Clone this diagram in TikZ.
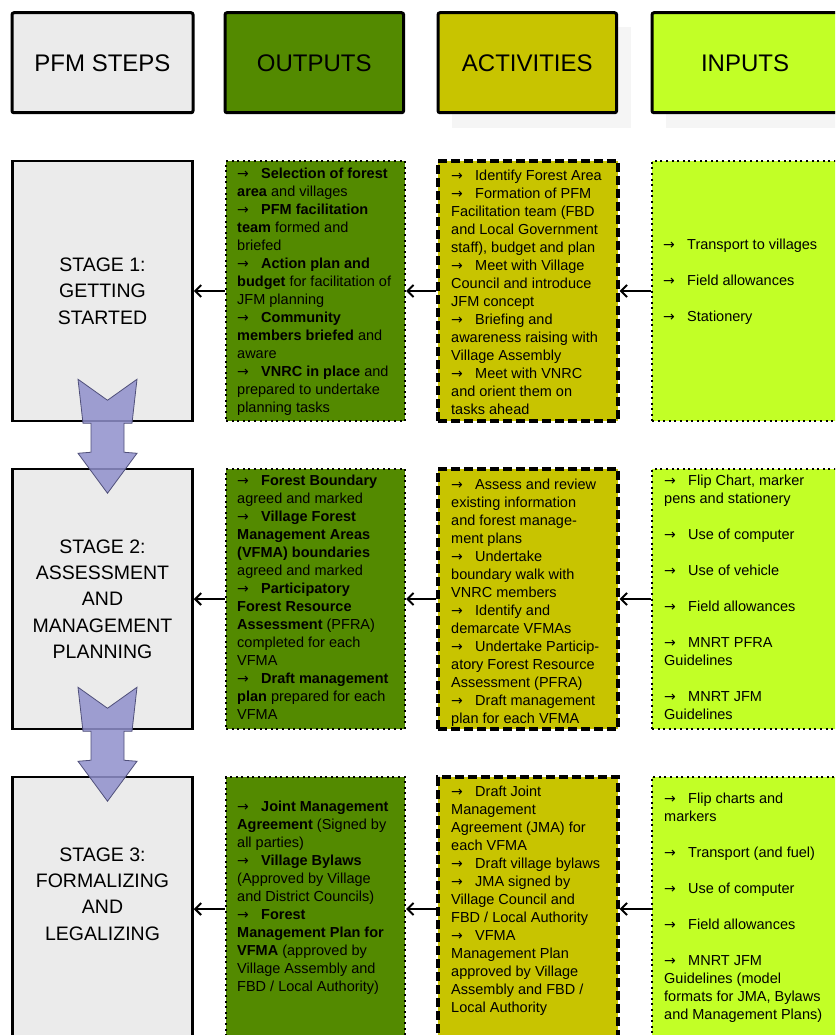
\documentclass[tikz,border=0pt]{standalone}
\usepackage{fontspec}
\setmainfont{Liberation Sans}
\newfontfamily\arfont{DejaVu Sans}
\usetikzlibrary{arrows.meta}
\definecolor{stepgray}{HTML}{EBEBEB}
\definecolor{outgreen}{HTML}{538A00}
\definecolor{actyellow}{HTML}{C8C400}
\definecolor{inlime}{HTML}{C2FF26}
\definecolor{arrowfill}{HTML}{9090CC}
\definecolor{arrowdraw}{HTML}{50507A}
\newcommand\ar{\strut\makebox[24pt][l]{\arfont\fontsize{14}{14}\selectfont →}}
\tikzset{
 hdr/.style={draw=black, line width=3pt, rounded corners=2pt, minimum height=100pt, inner sep=0pt, font=\fontsize{24}{28}\selectfont},
 stagebox/.style={draw=black, line width=2.5pt, fill=stepgray, minimum width=180pt, minimum height=260pt, align=center, inner sep=0pt, font=\fontsize{19.5}{26.3}\selectfont},
 outbox/.style={draw=black, line width=2.2pt, dash pattern=on 2pt off 3.6pt, fill=outgreen, minimum width=179pt, minimum height=260pt, inner sep=0pt},
 actbox/.style={draw=black, line width=3.3pt, dash pattern=on 9pt off 4pt, fill=actyellow, minimum width=180pt, minimum height=260pt, inner sep=0pt},
 inbox/.style={draw=black, line width=2.2pt, dash pattern=on 2pt off 3.6pt, fill=inlime, minimum width=200pt, minimum height=260pt, inner sep=0pt},
 txt/.style={anchor=north west, inner sep=0pt, align=left, font=\fontsize{14.5}{18}\selectfont},
 conn/.style={line width=2pt, -{Straight Barb[length=6pt,width=12pt]}},
 barrow/.style={fill=arrowfill, fill opacity=0.85, draw=arrowdraw, line width=0.8pt, line join=miter},
 shadowbox/.style={fill=black!4, draw=none},
}
\begin{document}
\begin{tikzpicture}[x=1pt,y=-1pt]
\useasboundingbox (0,0) rectangle (835,1035);
\clip (0,0) rectangle (835,1035);
\fill[white] (0,0) rectangle (835,1035);

% header shadows
\fill[shadowbox] (452,27) rectangle (631,128);
\fill[shadowbox] (666,27) rectangle (870,128);

% headers
\node[hdr, fill=stepgray, minimum width=181pt] (hsteps) at (102.5,62.75) {PFM STEPS};
\node[hdr, fill=outgreen, minimum width=178.6pt] (hout) at (314.3,62.75) {OUTPUTS};
\node[hdr, fill=actyellow, minimum width=178.6pt] (hact) at (527.3,62.75) {ACTIVITIES};
\node[hdr, fill=inlime, minimum width=200pt, text width=180pt, align=left] (hin) at (752,62.75) {\hspace{39pt}INPUTS};

% stage boxes
\node[stagebox] (s1) at (102.5,291) {STAGE 1:\\GETTING\\STARTED};
\node[stagebox] (s2) at (102.5,599) {STAGE 2:\\ASSESSMENT\\AND\\MANAGEMENT\\PLANNING};
\node[stagebox, minimum height=264pt] (s3) at (102.5,909) {STAGE 3:\\FORMALIZING\\AND\\LEGALIZING\\[4pt]};

% row boxes
\node[outbox] (o1) at (315.5,291) {};
\node[actbox] (a1) at (528,291) {};
\node[inbox] (i1) at (752,291) {};
\node[outbox] (o2) at (315.5,599) {};
\node[actbox] (a2) at (528,599) {};
\node[inbox] (i2) at (752,599) {};
\node[outbox, minimum height=264pt] (o3) at (315.5,909) {};
\node[actbox, minimum height=264pt] (a3) at (528,909) {};
\node[inbox, minimum height=264pt] (i3) at (752,909) {};

% connectors
\draw[conn] (o1.west) -- (s1.east);
\draw[conn] (a1.west) -- (o1.east);
\draw[conn] (i1.west) -- (a1.east);
\draw[conn] (o2.west) -- (s2.east);
\draw[conn] (a2.west) -- (o2.east);
\draw[conn] (i2.west) -- (a2.east);
\draw[conn] (o3.west) -- (s3.east);
\draw[conn] (a3.west) -- (o3.east);
\draw[conn] (i3.west) -- (a3.east);

% block arrows between stages
\path[barrow, shift={(s1.south)}] (-24.5,-43) -- (5,-22) -- (34.5,-43) -- (29.5,1) -- (21.5,1) -- (21.5,30) -- (34.5,31) -- (5,71) -- (-24.5,31) -- (-11.5,30) -- (-11.5,1) -- (-19.5,1) -- cycle;
\path[barrow, shift={(s2.south)}] (-24.5,-43) -- (5,-22) -- (34.5,-43) -- (29.5,1) -- (21.5,1) -- (21.5,30) -- (34.5,31) -- (5,71) -- (-24.5,31) -- (-11.5,30) -- (-11.5,1) -- (-19.5,1) -- cycle;

% texts row 1
\node[txt] (to1) at (237,165.7) {\ar\textbf{Selection of forest}\\
\textbf{area} and villages\\
\ar\textbf{PFM facilitation}\\
\textbf{team} formed and\\
briefed\\
\ar\textbf{Action plan and}\\
\textbf{budget} for facilitation of\\
JFM planning\\
\ar\textbf{Community}\\
\textbf{members briefed} and\\
aware\\
\ar\textbf{VNRC in place} and\\
prepared to undertake\\
planning tasks};
\node[txt] (ta1) at (451,167.4) {\ar Identify Forest Area\\
\ar Formation of PFM\\
Facilitation team (FBD\\
and Local Government\\
staff), budget and plan\\
\ar Meet with Village\\
Council and introduce\\
JFM concept\\
\ar Briefing and\\
awareness raising with\\
Village Assembly\\
\ar Meet with VNRC\\
and orient them on\\
tasks ahead};
\node[txt] (ti1) at (663,236.7) {\ar Transport to villages\\[18pt]
\ar Field allowances\\[18pt]
\ar Stationery};

% texts row 2
\node[txt] (to2) at (237,472.4) {\ar\textbf{Forest Boundary}\\
agreed and marked\\
\ar\textbf{Village Forest}\\
\textbf{Management Areas}\\
\textbf{(VFMA) boundaries}\\
agreed and marked\\
\ar\textbf{Participatory}\\
\textbf{Forest Resource}\\
\textbf{Assessment} (PFRA)\\
completed for each\\
VFMA\\
\ar\textbf{Draft management}\\
\textbf{plan} prepared for each\\
VFMA};
\node[txt] (ta2) at (451,476.7) {\ar Assess and review\\
existing information\\
and forest manage-\\
ment plans\\
\ar Undertake\\
boundary walk with\\
VNRC members\\
\ar Identify and\\
demarcate VFMAs\\
\ar Undertake Particip-\\
atory Forest Resource\\
Assessment (PFRA)\\
\ar Draft management\\
plan for each VFMA};
\node[txt] (ti2) at (664,472.4) {\ar Flip Chart, marker\\
pens and stationery\\[18pt]
\ar Use of computer\\[18pt]
\ar Use of vehicle\\[18pt]
\ar Field allowances\\[18pt]
\ar MNRT PFRA\\
Guidelines\\[18pt]
\ar MNRT JFM\\
Guidelines};

% texts row 3
\node[txt] (to3) at (237,798.4) {\ar\textbf{Joint Management}\\
\textbf{Agreement} (Signed by\\
all parties)\\
\ar\textbf{Village Bylaws}\\
(Approved by Village\\
and District Councils)\\
\ar\textbf{Forest}\\
\textbf{Management Plan for}\\
\textbf{VFMA} (approved by\\
Village Assembly and\\
FBD / Local Authority)};
\node[txt] (ta3) at (451,784) {\ar Draft Joint\\
Management\\
Agreement (JMA) for\\
each VFMA\\
\ar Draft village bylaws\\
\ar JMA signed by\\
Village Council and\\
FBD / Local Authority\\
\ar VFMA\\
Management Plan\\
approved by Village\\
Assembly and FBD /\\
Local Authority};
\node[txt] (ti3) at (664,790.7) {\ar Flip charts and\\
markers\\[18pt]
\ar Transport (and fuel)\\[18pt]
\ar Use of computer\\[18pt]
\ar Field allowances\\[18pt]
\ar MNRT JFM\\
Guidelines (model\\
formats for JMA, Bylaws\\
and Management Plans)};
\end{tikzpicture}
\end{document}
